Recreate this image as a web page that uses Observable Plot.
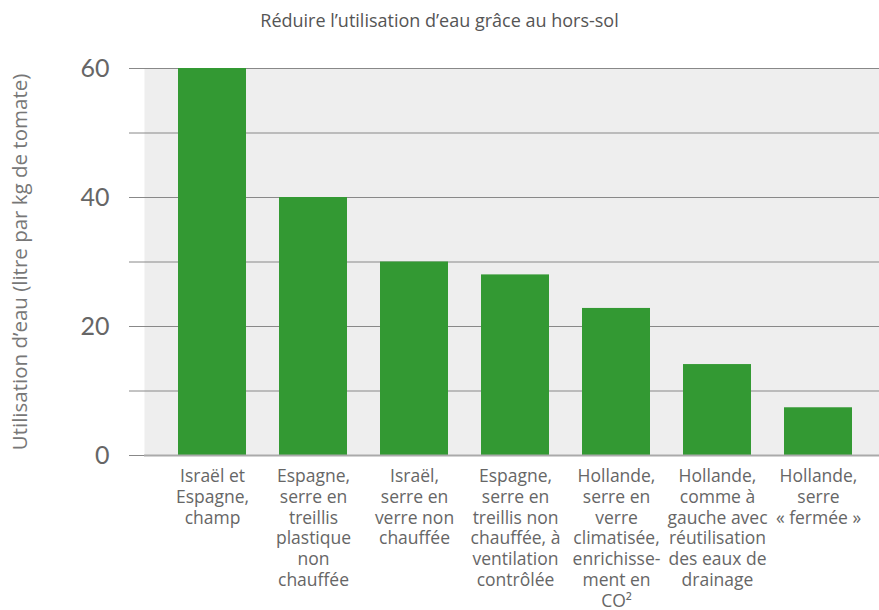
<!DOCTYPE html>
<html>
<head>
<meta charset="utf-8">
<script src="https://cdn.jsdelivr.net/npm/d3@7"></script>
<script src="https://cdn.jsdelivr.net/npm/@observablehq/plot@0.6"></script>
<style>
  body { margin: 0; background: #fff; font-family: "Open Sans", sans-serif; }
  #title { height: 40px; line-height: 40px; text-align: center; font-size: 18px; color: #555; width: 879px; }
</style>
</head>
<body>
<div id="title">Réduire l’utilisation d’eau grâce au hors-sol</div>
<div id="chart"></div>
<script>
const categories = [
  "Israël et\nEspagne,\nchamp",
  "Espagne,\nserre en\ntreillis\nplastique\nnon\nchauffée",
  "Israël,\nserre en\nverre non\nchauffée",
  "Espagne,\nserre en\ntreillis non\nchauffée, à\nventilation\ncontrôlée",
  "Hollande,\nserre en\nverre\nclimatisée,\nenrichisse-\nment en\nCO²",
  "Hollande,\ncomme à\ngauche avec\nréutilisation\ndes eaux de\ndrainage",
  "Hollande,\nserre\n« fermée »"
];
const values = [60, 40, 30, 28, 22.8, 14.1, 7.4];
const gridTicks = [0, 10, 20, 30, 40, 50, 60];
const labelTicks = [0, 20, 40, 60];
const yLabel = "Utilisation d’eau (litre par kg de tomate)";

const data = categories.map((c, i) => ({category: c, value: values[i]}));

const chart = Plot.plot({
  width: 879,
  height: 570,
  marginTop: 28,
  marginBottom: 155,
  marginLeft: 144,
  marginRight: 0,
  style: {fontFamily: "'Open Sans', sans-serif", background: "white", overflow: "visible"},
  x: {domain: categories, paddingInner: 0.33, paddingOuter: 0.165, insetLeft: 14, insetRight: 8, label: null},
  y: {domain: [0, 60], label: null},
  marks: [
    Plot.frame({fill: "#eeeeee", stroke: null}),
    Plot.ruleY(gridTicks.filter(d => d > 0), {stroke: "#888", strokeWidth: 1}),
    Plot.axisY({ticks: gridTicks, tickSize: 15, tickFormat: () => "", stroke: "#888", strokeOpacity: 1, label: null}),
    Plot.barY(data, {x: "category", y: "value", fill: "#339933"}),
    Plot.ruleY([0], {stroke: "#aaa", strokeWidth: 2}),
    Plot.axisY({ticks: labelTicks, tickSize: 0, tickPadding: 35, fontSize: 25, fontFamily: "Lato, sans-serif", color: "#666", label: null}),
    Plot.axisX({tickSize: 0, tickPadding: 12, fontSize: 17.5, lineHeight: 1.185, color: "#666", label: null}),
    Plot.text([yLabel], {text: d => d, frameAnchor: "left", textAnchor: "middle", rotate: -90, dx: -124, fontSize: 20.5, fill: "#777"})
  ]
});
document.getElementById("chart").appendChild(chart);
</script>
</body>
</html>
